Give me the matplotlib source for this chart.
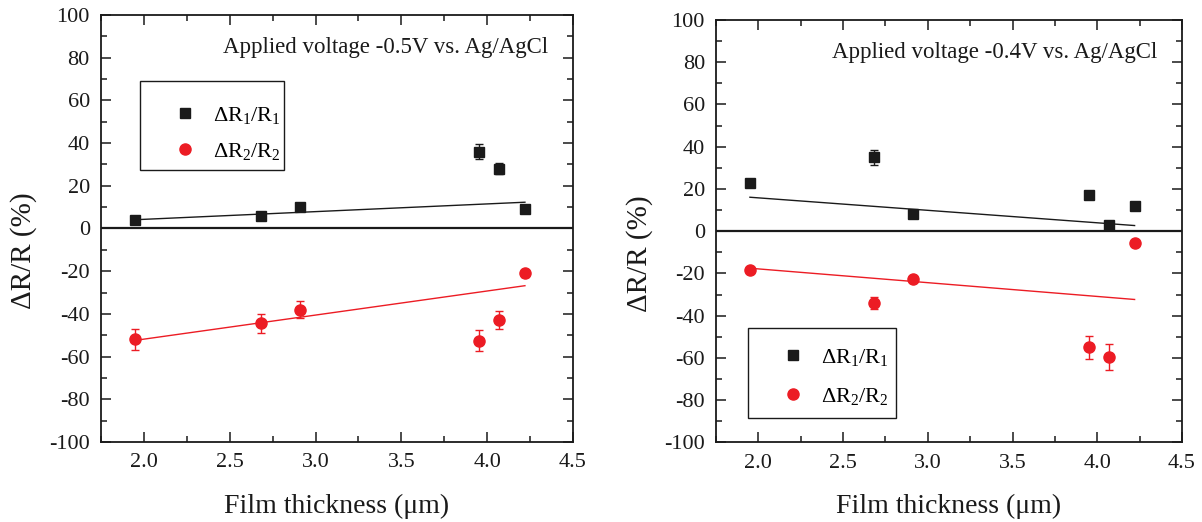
import matplotlib
matplotlib.use("Agg")
import matplotlib.pyplot as plt
from matplotlib.patches import Rectangle
from matplotlib.ticker import MultipleLocator, FormatStrFormatter

plt.rcParams['font.family'] = ['Liberation Serif', 'DejaVu Serif']
plt.rcParams['mathtext.fontset'] = 'custom'
plt.rcParams['mathtext.rm'] = 'Liberation Serif'
plt.rcParams['mathtext.it'] = 'Liberation Serif:italic'
plt.rcParams['axes.unicode_minus'] = False

# ---- data ----
thickness = [1.95, 2.68, 2.91, 3.95, 4.07, 4.22]

left_r1 = [4, 6, 10, 36, 28, 9]
left_r1_err = [1, 1, 1, 3.5, 2.5, 1]
left_r2 = [-52, -44.5, -38, -52.5, -43, -21]
left_r2_err = [5, 4.5, 4, 5, 4.3, 1.5]

right_r1 = [23, 35, 8, 17, 3, 12]
right_r1_err = [1.5, 3.5, 1, 1, 1, 1]
right_r2 = [-18.5, -34, -22.5, -55, -59.5, -5.5]
right_r2_err = [1, 3, 1.5, 5.5, 6, 1]

fit_x = [1.95, 4.22]
left_fit_r1 = [4.1, 12.3]
left_fit_r2 = [-52.4, -26.8]
right_fit_r1 = [16.1, 2.7]
right_fit_r2 = [-17.5, -32.3]

titles = ["Applied voltage -0.5V vs. Ag/AgCl", "Applied voltage -0.4V vs. Ag/AgCl"]
label_r1 = r"ΔR$_1$/R$_1$"
label_r2 = r"ΔR$_2$/R$_2$"

BLACK = '#1a1a1a'
RED = '#ec1c24'

fig = plt.figure(figsize=(12.02, 5.22), dpi=100)
ax_l = fig.add_axes([0.084, 0.1533, 0.3927, 0.818])
ax_r = fig.add_axes([0.5957, 0.1523, 0.3877, 0.8094])

panels = [
    dict(ax=ax_l, r1=left_r1, r1e=left_r1_err, r2=left_r2, r2e=left_r2_err,
         f1=left_fit_r1, f2=left_fit_r2, title=titles[0],
         leg_anchor=(0.14, 0.7225), leg_space=0.68,
         box=(0.0826, 0.637, 0.305, 0.2084), ylab_x=-0.136),
    dict(ax=ax_r, r1=right_r1, r1e=right_r1_err, r2=right_r2, r2e=right_r2_err,
         f1=right_fit_r1, f2=right_fit_r2, title=titles[1],
         leg_anchor=(0.1266, 0.155), leg_space=0.82,
         box=(0.0687, 0.058, 0.3176, 0.213), ylab_x=-0.135),
]

for p in panels:
    ax = p['ax']
    ax.axhline(0, color=BLACK, lw=1.6, zorder=1)
    ax.plot(fit_x, p['f1'], color=BLACK, lw=1.0, zorder=2)
    ax.plot(fit_x, p['f2'], color=RED, lw=1.0, zorder=2)
    e1 = ax.errorbar(thickness, p['r1'], yerr=p['r1e'], fmt='s', color=BLACK, ms=7.2,
                     capsize=3, elinewidth=1, capthick=1, zorder=3)
    e2 = ax.errorbar(thickness, p['r2'], yerr=p['r2e'], fmt='o', color=RED, ms=8,
                     capsize=3, elinewidth=1, capthick=1, zorder=3)

    ax.set_xlim(1.75, 4.5)
    ax.set_ylim(-100, 100)
    ax.xaxis.set_major_locator(MultipleLocator(0.5))
    ax.xaxis.set_minor_locator(MultipleLocator(0.25))
    ax.yaxis.set_major_locator(MultipleLocator(20))
    ax.yaxis.set_minor_locator(MultipleLocator(10))
    ax.xaxis.set_major_formatter(FormatStrFormatter('%.1f'))
    ax.tick_params(which='both', direction='in', top=True, right=True, width=1.1,
                   labelsize=16, color=BLACK, labelcolor=BLACK)
    ax.tick_params(which='major', length=7, pad=8)
    ax.tick_params(which='minor', length=4)
    for s in ax.spines.values():
        s.set_linewidth(1.3)
        s.set_color(BLACK)

    ax.set_xlabel("Film thickness (μm)", fontsize=20, color=BLACK)
    ax.xaxis.set_label_coords(0.5, -0.122)
    ax.set_ylabel("ΔR/R (%)", fontsize=21, color=BLACK)
    ax.yaxis.set_label_coords(p['ylab_x'], 0.447)

    ax.text(0.947, 0.923, p['title'], transform=ax.transAxes, ha='right', va='center',
            fontsize=16.5, color=BLACK)

    bx, by, bw, bh = p['box']
    ax.add_patch(Rectangle((bx, by), bw, bh, transform=ax.transAxes, fill=True,
                           facecolor='white', edgecolor=BLACK, lw=1.0, zorder=4))
    leg = ax.legend([e1[0], e2[0]], [label_r1, label_r2], loc='center left',
                    bbox_to_anchor=p['leg_anchor'], borderaxespad=0, borderpad=0,
                    fontsize=16, frameon=False, handlelength=1.6,
                    handletextpad=0.47, labelspacing=p['leg_space'])
    leg.set_zorder(5)

fig.savefig("out.png", dpi=100)
